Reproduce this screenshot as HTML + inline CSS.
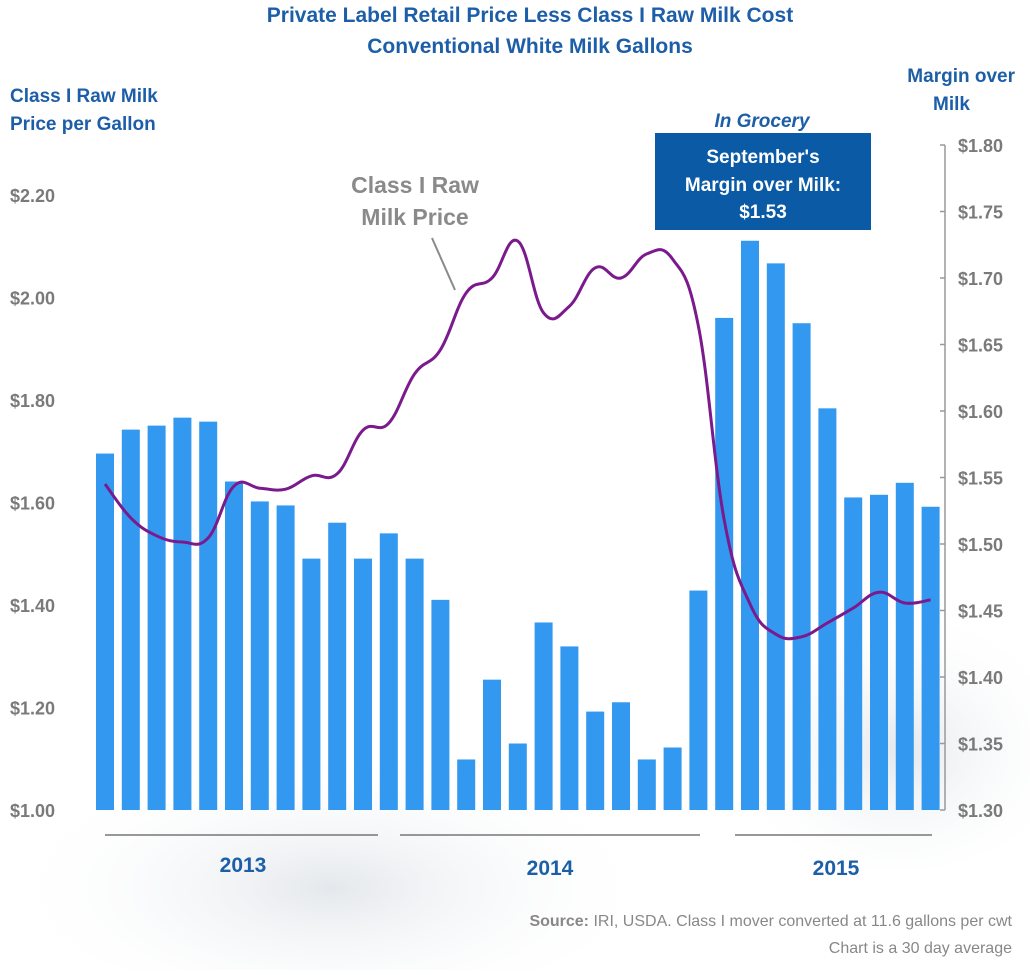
<!DOCTYPE html>
<html><head><meta charset="utf-8"><style>
body{margin:0;background:#fff;}
svg text{font-family:"Liberation Sans",sans-serif;}
</style></head><body>
<svg width="1030" height="970" viewBox="0 0 1030 970" xmlns="http://www.w3.org/2000/svg">
<defs>
<radialGradient id="splash" cx="0.5" cy="0.6" r="0.5">
<stop offset="0" stop-color="#e4e8ec"/><stop offset="1" stop-color="#ffffff" stop-opacity="0"/>
</radialGradient>
</defs>
<rect width="1030" height="970" fill="#fff"/>
<ellipse cx="330" cy="860" rx="330" ry="140" fill="url(#splash)"/>
<ellipse cx="900" cy="720" rx="180" ry="150" fill="url(#splash)"/>
<text x="530" y="22" text-anchor="middle" font-size="21" font-weight="bold" fill="#1d5ea8">Private Label Retail Price Less Class I Raw Milk Cost</text>
<text x="530" y="53" text-anchor="middle" font-size="21" font-weight="bold" fill="#1d5ea8">Conventional White Milk Gallons</text>
<text font-size="19" font-weight="bold" fill="#1d5ea8"><tspan x="10" y="102">Class I Raw Milk</tspan><tspan x="10" y="130">Price per Gallon</tspan></text>
<text font-size="19" font-weight="bold" fill="#1d5ea8" text-anchor="end"><tspan x="1015" y="82">Margin over</tspan><tspan x="970" y="110">Milk</tspan></text>
<g id="axes"></g>
<g id="bars"></g>
<g id="line"></g>
<text x="762" y="127" text-anchor="middle" font-size="19" font-weight="bold" font-style="italic" fill="#1d5ea8">In Grocery</text>
<rect x="655" y="133" width="216" height="97" fill="#0b5aa6"/>
<text text-anchor="middle" font-size="19" font-weight="bold" fill="#fff"><tspan x="763" y="163">September's</tspan><tspan x="763" y="191">Margin over Milk:</tspan><tspan x="763" y="218">$1.53</tspan></text>
<text text-anchor="middle" font-size="23" font-weight="bold" fill="#8a8a8a"><tspan x="415" y="193">Class I Raw</tspan><tspan x="415" y="225">Milk Price</tspan></text>
<line x1="432" y1="238" x2="455" y2="290" stroke="#8a8a8a" stroke-width="2"/>
<g>
<line x1="105" y1="835" x2="378" y2="835" stroke="#777" stroke-width="1.5"/>
<line x1="400" y1="835" x2="700" y2="835" stroke="#777" stroke-width="1.5"/>
<line x1="735" y1="835" x2="932" y2="835" stroke="#777" stroke-width="1.5"/>
<text x="243" y="872" text-anchor="middle" font-size="21" font-weight="bold" fill="#1d5ea8">2013</text>
<text x="550" y="875" text-anchor="middle" font-size="21" font-weight="bold" fill="#1d5ea8">2014</text>
<text x="836" y="875" text-anchor="middle" font-size="21" font-weight="bold" fill="#1d5ea8">2015</text>
</g>
<text text-anchor="end" font-size="16" fill="#888"><tspan x="1012" y="926"><tspan font-weight="bold">Source:</tspan> IRI, USDA. Class I mover converted at 11.6 gallons per cwt</tspan><tspan x="1012" y="953">Chart is a 30 day average</tspan></text>
</svg>
<script>
const margins=[1.568,1.586,1.589,1.595,1.592,1.547,1.532,1.529,1.489,1.516,1.489,1.508,1.489,1.458,1.338,1.398,1.350,1.441,1.423,1.374,1.381,1.338,1.347,1.465,1.670,1.728,1.711,1.666,1.602,1.535,1.537,1.546,1.528];
const rawMilk=[1.636,1.570,1.535,1.523,1.531,1.632,1.628,1.626,1.652,1.656,1.741,1.755,1.851,1.898,2.009,2.038,2.110,1.970,1.983,2.058,2.038,2.085,2.075,1.944,1.566,1.402,1.343,1.338,1.365,1.394,1.425,1.404,1.410];
const leftTicks=["$1.00","$1.20","$1.40","$1.60","$1.80","$2.00","$2.20"];
const rightTicks=["$1.30","$1.35","$1.40","$1.45","$1.50","$1.55","$1.60","$1.65","$1.70","$1.75","$1.80"];
const NS="http://www.w3.org/2000/svg";
const xPos=i=>105+i*25.8;
const yL=v=>810-(v-1.0)*512.5;
const yR=v=>810-(v-1.3)*1330;
function mk(tag,attrs,parent){const e=document.createElementNS(NS,tag);for(const k in attrs)e.setAttribute(k,attrs[k]);parent.appendChild(e);return e;}
const axes=document.getElementById('axes');
leftTicks.forEach(t=>{const v=parseFloat(t.slice(1));
const e=mk('text',{x:10,y:yL(v)+7,'font-size':18,'font-weight':'bold',fill:'#7a7a7a'},axes);e.textContent=t;

});
const ax=mk('line',{x1:945,y1:145,x2:945,y2:810,stroke:'#999','stroke-width':1.5},axes);


rightTicks.forEach(t=>{const v=parseFloat(t.slice(1));
const tk=mk('line',{x1:940,y1:yR(v),x2:945,y2:yR(v),stroke:'#999','stroke-width':1.5},axes);


const e=mk('text',{x:958,y:yR(v)+7,'font-size':18,'font-weight':'bold',fill:'#7a7a7a'},axes);e.textContent=t;

});
const bars=document.getElementById('bars');
margins.forEach((v,i)=>{const y=yR(v);
const r=mk('rect',{x:xPos(i)-9,y:y,width:18,height:810-y,fill:'#3399f0'},bars);

});
const P=rawMilk.map((v,i)=>[xPos(i),yL(v)]);
let d='M'+P[0][0]+','+P[0][1];
for(let i=0;i<P.length-1;i++){const p0=P[Math.max(0,i-1)],p1=P[i],p2=P[i+1],p3=P[Math.min(P.length-1,i+2)];const t=0.2;
d+=' C'+(p1[0]+(p2[0]-p0[0])*t).toFixed(1)+','+(p1[1]+(p2[1]-p0[1])*t).toFixed(1)+' '+(p2[0]-(p3[0]-p1[0])*t).toFixed(1)+','+(p2[1]-(p3[1]-p1[1])*t).toFixed(1)+' '+p2[0].toFixed(1)+','+p2[1].toFixed(1);}
const pl=mk('path',{d:d,fill:'none',stroke:'#7b1a8c','stroke-width':3,'stroke-linejoin':'round'},document.getElementById('line'));


</script>
</body></html>
